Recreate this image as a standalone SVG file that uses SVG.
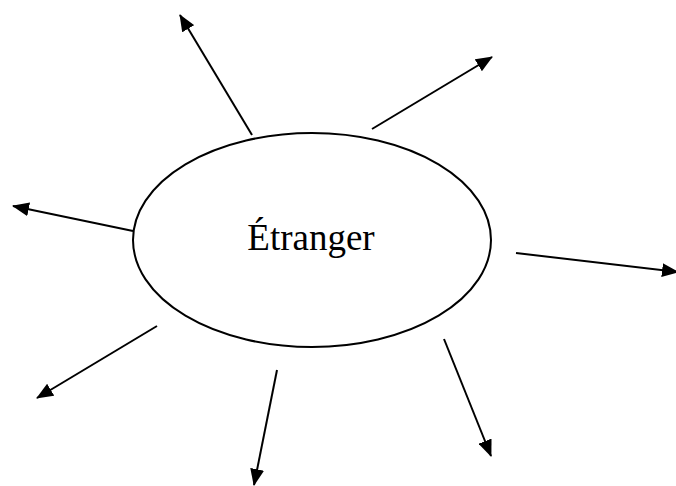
<svg xmlns="http://www.w3.org/2000/svg" width="676" height="486" viewBox="0 0 676 486">
  <style>
    .ray { stroke: #000; stroke-width: 2; fill: none; marker-end: url(#head); }
    .oval { stroke: #000; stroke-width: 2; fill: #fff; }
    .label { font-family: "Liberation Serif", "Times New Roman", serif; font-size: 37px; fill: #000; }
  </style>
  <defs>
    <marker id="head" viewBox="0 0 17 14" refX="16" refY="7" markerWidth="17" markerHeight="14" markerUnits="userSpaceOnUse" orient="auto">
      <path d="M0,0 L17,7 L0,14 Z" fill="#000"/>
    </marker>
  </defs>
  <rect width="676" height="486" fill="#fff"/>
  <g id="connectors">
    <line class="ray" x1="252" y1="135" x2="180" y2="15"/>
    <line class="ray" x1="372" y1="129" x2="492" y2="57"/>
    <line class="ray" x1="133" y1="231" x2="13" y2="206"/>
    <line class="ray" x1="516" y1="253" x2="678" y2="272"/>
    <line class="ray" x1="157" y1="326" x2="37" y2="398"/>
    <line class="ray" x1="277" y1="370" x2="254" y2="485"/>
    <line class="ray" x1="444" y1="339" x2="491" y2="456"/>
  </g>
  <g id="etranger">
    <ellipse class="oval" cx="312" cy="240" rx="179" ry="107"/>
    <text class="label" x="311" y="250" text-anchor="middle">Étranger</text>
  </g>
</svg>
